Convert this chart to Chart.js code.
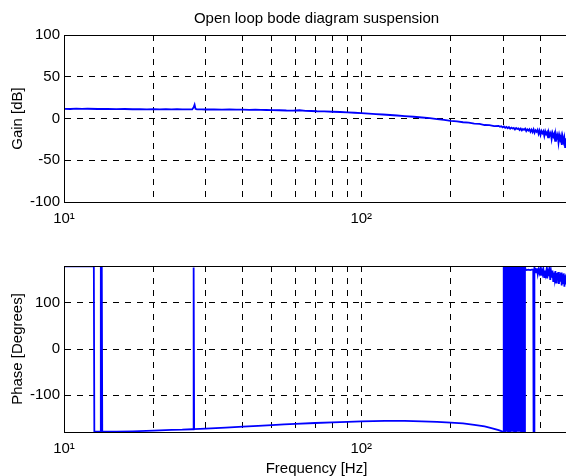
<!DOCTYPE html>
<html>
<head>
<meta charset="utf-8">
<script src="https://cdn.jsdelivr.net/npm/chart.js@4.4.1/dist/chart.umd.min.js"></script>
<style>
  html, body { margin: 0; padding: 0; background: #fff; overflow: hidden; width: 566px; height: 476px; }
  .wrap { position: absolute; left: 0; width: 600px; height: 240px; }
  #gainWrap { top: 0; }
  #phaseWrap { top: 240px; }
</style>
</head>
<body>
<div class="wrap" id="gainWrap"><canvas id="gainChart" width="600" height="240"></canvas></div>
<div class="wrap" id="phaseWrap"><canvas id="phaseChart" width="600" height="240"></canvas></div>
<script>
// data
const freqTicks = [10, 20, 30, 40, 50, 60, 70, 80, 90, 100, 200, 300, 400, 500];
const gainTicks = [-100, -50, 0, 50, 100];
const phaseTicks = [-100, 0, 100];

const gainFreq = [10, 10.5, 11, 11.5, 12, 13, 14, 15, 16, 17, 18, 19, 20, 21, 22, 23, 24, 25, 26, 27,
  27.3, 27.5, 27.7, 28, 29, 30, 32, 34, 36, 38, 40, 42, 44, 46, 48, 50, 53, 56, 59, 62, 65, 68, 71, 75,
  80, 85, 90, 95, 100, 106, 112, 118, 125, 132, 140, 150, 160, 170, 180, 190, 200, 210, 220, 230, 240,
  250, 260, 270, 280,
  290, 293, 296, 299, 302, 305, 308, 311, 314, 317, 320, 323, 326, 329, 332, 335, 338, 341, 344, 347,
  350, 353, 356, 359, 362, 365, 368, 371, 374, 377, 380, 383, 386, 389, 392, 395, 398, 401, 404, 407,
  410, 413, 416, 419, 422, 425, 428, 431, 434, 437, 440, 443, 446, 449, 452, 455, 458, 461, 464, 467,
  470, 473, 476, 479, 482, 485, 488, 491, 494, 497, 500];
const gainDb = [11.6, 11.4, 11.8, 11.5, 11.7, 11.4, 11.5, 11.3, 11.4, 11.1, 11.3, 11.0, 11.2, 11.0, 11.2, 10.9, 11.1, 10.9, 11.0, 10.9,
  13.5, 16.5, 11.5, 10.9, 11.0, 10.8, 10.9, 10.7, 10.8, 10.6, 10.7, 10.4, 10.5, 10.3, 10.2, 10.0, 9.9, 9.6, 9.5, 9.9, 9.2, 9.0, 8.7, 8.6,
  8.1, 7.8, 7.3, 6.9, 6.4, 5.9, 5.3, 4.8, 4.2, 3.6, 2.9, 2.1, 1.2, 0.4, -0.8, -1.6, -2.8, -3.4, -4.5, -5.0, -6.2,
  -6.5, -7.8, -7.9, -9.2,
  -9.0, -9.8, -9.3, -10.6, -9.6, -11.2, -10.1, -11.6, -10.3, -12.2, -10.9, -12.0, -11.2, -13.1, -11.4, -12.6, -11.9, -13.8, -12.1, -14.2,
  -12.5, -13.6, -12.2, -15.1, -13.0, -14.4, -12.8, -15.9, -13.4, -16.2, -12.9, -17.0, -14.1, -15.8, -13.6, -18.4, -14.5, -19.6, -14.9, -17.5,
  -15.3, -20.8, -15.2, -18.6, -16.4, -22.5, -16.8, -19.9, -17.2, -24.6, -17.5, -21.4, -18.3, -26.8, -18.9, -23.1, -19.6, -29.0, -20.4, -25.2,
  -21.0, -31.5, -21.8, -27.6, -22.9, -34.2, -23.6, -30.1, -24.8, -36.0, -25.5];

const phaseFreq = [10, 11, 12, 12.6, 12.65, 13.2, 13.27, 13.3, 13.4, 13.45, 14, 15, 17, 20, 23, 25, 27, 27.2, 27.3, 27.4,
  30, 35, 40, 45, 50, 55, 60, 70, 80, 90, 100, 110, 120, 140, 160, 180, 200, 220, 240, 250, 260, 270, 280, 290, 296, 300,
  301.5, 303, 304.5, 306, 307.5, 309, 310.5, 312, 313.5, 315, 316.5, 318, 319.5, 321, 322.5, 324, 325.5, 327,
  328.5, 330, 331.5, 333, 334.5, 336, 337.5, 339, 340.5, 342, 343.5, 345, 346.5, 348, 349.5, 351, 352.5,
  354.5, 355.5, 357, 360, 365, 370, 375, 379, 380, 381.5, 382.5,
  385, 387.5, 390, 392.5, 395, 397.5, 400, 402.5, 405, 407.5, 410, 412.5, 415, 417.5, 420, 422.5, 425, 427.5,
  430, 432.5, 435, 437.5, 440, 442.5, 445, 447.5, 450, 452.5, 455, 457.5, 460, 462.5, 465, 467.5, 470, 472.5,
  475, 477.5, 480, 482.5, 485, 487.5, 490, 492.5, 495, 497.5, 500];
const phaseDeg = [179.5, 179.5, 179.5, 179.5, -179.5, -179.5, -179.5, 179.5, 179.5, -179.5, -179, -179, -178.5, -177, -175.5, -175, -174, -174, 177, -173.8,
  -172.5, -170.5, -168.5, -166.5, -165, -163.5, -162.5, -160.5, -159, -158, -157, -156.5, -156, -156, -157, -158, -159.5, -161.5, -164.5, -166, -168, -170.5, -173, -176, -178, -179.5,
  179.5, -179.5, 179.5, -179.5, 179.5, -179.5, 179.5, -179.5, 179.5, -179.5, 179.5, -179.5, 179.5, -179.5, 179.5, -179.5, 179.5, -179.5,
  179.5, -179.5, 179.5, -179.5, 179.5, -179.5, 179.5, -179.5, 179.5, -179.5, 179.5, -179.5, 179.5, -179.5, 179.5, -179.5, 179.5,
  -179.5, 179.5, 172, 171, 172, 171, 172, 172, -179.5, -179.5, 176,
  174, 166, 175, 162, 172, 165, 174, 159, 171, 163, 173, 156, 170, 161, 172, 153, 169, 158,
  171, 150, 168, 155, 170, 147, 166, 152, 169, 144, 165, 149, 167, 141, 163, 146, 166, 138,
  162, 143, 164, 135, 160, 140, 163, 132, 158, 137, 161];

const FONT = "'Liberation Sans', Arial, Helvetica, sans-serif";
Chart.defaults.font.family = FONT;
Chart.defaults.font.size = 15;
Chart.defaults.color = '#000';

// full box around the axes, like matlab "box on"
const boxPlugin = {
  id: 'box',
  afterDraw(chart) {
    const { ctx, chartArea: a } = chart;
    ctx.save();
    ctx.strokeStyle = '#000';
    ctx.lineWidth = 1;
    ctx.strokeRect(Math.round(a.left) + 0.5, Math.round(a.top) + 0.5,
      Math.round(a.right - a.left), Math.round(a.bottom - a.top));
    ctx.restore();
  }
};

function freqAxis(showTitle) {
  return {
    type: 'logarithmic',
    min: 10,
    max: 500,
    afterBuildTicks: s => { s.ticks = freqTicks.map(v => ({ value: v })); },
    afterFit: s => { s.height = showTitle ? 48 : 38; },
    ticks: {
      autoSkip: false, maxRotation: 0, minRotation: 0, padding: 8,
      callback: v => v === 10 ? '10\u00B9' : (v === 100 ? '10\u00B2' : '')
    },
    grid: {
      color: c => (c.tick && (c.tick.value === 10 || c.tick.value === 500)) ? 'rgba(0,0,0,0)' : '#000',
      lineWidth: 1,
      drawTicks: false
    },
    border: { color: '#000', width: 1, dash: [6, 6] },
    title: { display: showTitle, text: 'Frequency [Hz]', padding: { top: 0, bottom: 2 } }
  };
}

function valueAxis(min, max, tickList, label) {
  return {
    min: min,
    max: max,
    afterBuildTicks: s => { s.ticks = tickList.map(v => ({ value: v })); },
    afterFit: s => { s.width = 64; },
    ticks: { padding: 4 },
    grid: {
      color: c => (c.tick && (c.tick.value === min || c.tick.value === max)) ? 'rgba(0,0,0,0)' : '#000',
      lineWidth: 1,
      drawTicks: false
    },
    border: { color: '#000', width: 1, dash: [6, 6] },
    title: { display: true, text: label, padding: { top: 9, bottom: 0 } }
  };
}

function lineData(xs, ys) {
  return {
    datasets: [{
      data: xs.map((f, i) => ({ x: f, y: ys[i] })),
      borderColor: '#0000ff',
      borderWidth: 1.8,
      pointRadius: 0,
      tension: 0,
      fill: false
    }]
  };
}

new Chart(document.getElementById('gainChart'), {
  type: 'line',
  data: lineData(gainFreq, gainDb),
  options: {
    responsive: false,
    animation: false,
    layout: { padding: { left: 0, right: 31, top: 0, bottom: 0 } },
    plugins: {
      legend: { display: false },
      tooltip: { enabled: false },
      title: {
        display: true,
        text: 'Open loop bode diagram suspension',
        fullSize: false,
        color: '#000',
        font: { size: 15, weight: 'normal' },
        padding: { top: 10, bottom: 7 }
      }
    },
    scales: {
      x: freqAxis(false),
      y: valueAxis(-100, 100, gainTicks, 'Gain [dB]')
    }
  },
  plugins: [boxPlugin]
});

new Chart(document.getElementById('phaseChart'), {
  type: 'line',
  data: lineData(phaseFreq, phaseDeg),
  options: {
    responsive: false,
    animation: false,
    layout: { padding: { left: 0, right: 31, top: 26, bottom: 0 } },
    plugins: {
      legend: { display: false },
      tooltip: { enabled: false }
    },
    scales: {
      x: freqAxis(true),
      y: valueAxis(-180, 180, phaseTicks, 'Phase [Degrees]')
    }
  },
  plugins: [boxPlugin]
});
</script>
</body>
</html>
